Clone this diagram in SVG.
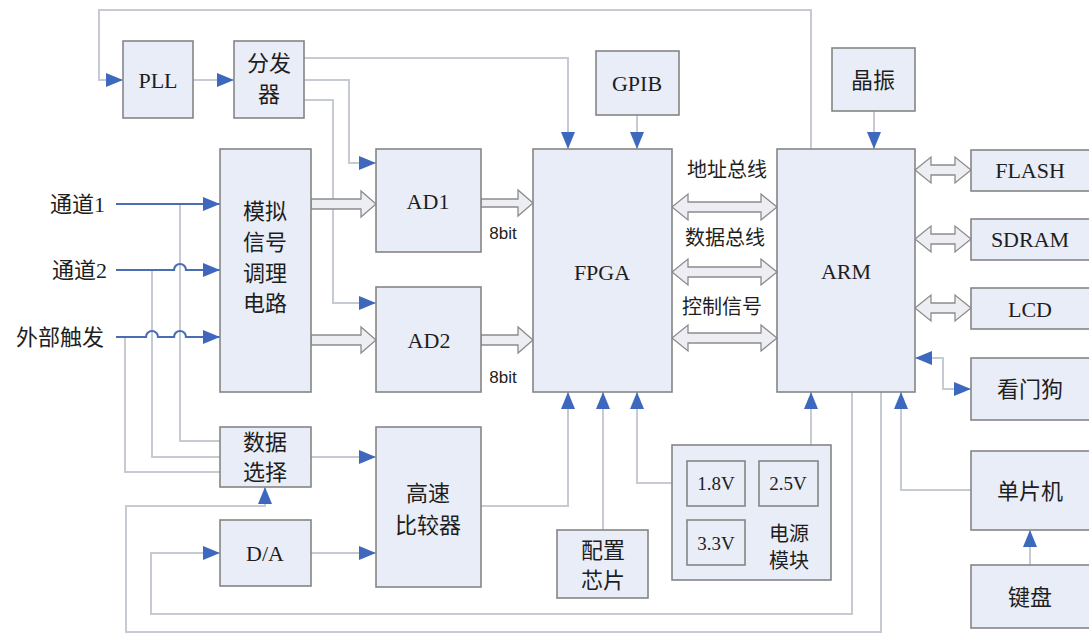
<svg xmlns="http://www.w3.org/2000/svg" width="1089" height="634" viewBox="0 0 1089 634">
<defs>
<style>
.box{fill:#e9edf8;stroke:#858585;stroke-width:1.6}
.t{font-family:"Liberation Serif","Noto Sans CJK SC",serif;font-size:22px;fill:#1e1e1e;text-anchor:middle;dominant-baseline:central}
.ts{font-family:"Liberation Sans","Noto Sans CJK SC",sans-serif;font-size:17px;fill:#1e1e1e;text-anchor:middle;dominant-baseline:central}
.tm{font-size:20px}
.tv{font-size:19px}
.ln{fill:none;stroke:#c6cad3;stroke-width:2}
.bl{fill:none;stroke:#4a6db3;stroke-width:2.2}
.ha{fill:#eceef4;stroke:#8c8c8c;stroke-width:1.3}
</style>
<marker id="ah" markerUnits="userSpaceOnUse" markerWidth="17" markerHeight="14" refX="17" refY="7" orient="auto-start-reverse">
<path d="M0,0 L17,7 L0,14 z" fill="#3e68bd"/>
</marker>
</defs>
<rect width="1089" height="634" fill="#ffffff"/>

<g id="connectors">
<!-- top loop ARM -> PLL -->
<path class="ln" d="M811,149 V10 H99 V80 H123" marker-end="url(#ah)"/>
<path class="ln" d="M193,80 H234" marker-end="url(#ah)"/>
<path class="ln" d="M304,58 H568 V149" marker-end="url(#ah)"/>
<path class="ln" d="M304,80 H349 V163 H376" marker-end="url(#ah)"/>
<path class="ln" d="M304,100 H333 V303 H376" marker-end="url(#ah)"/>
<path class="ln" d="M637,115 V149" marker-end="url(#ah)"/>
<path class="ln" d="M874,111 V149" marker-end="url(#ah)"/>
<!-- input taps to 数据选择 -->
<path class="ln" d="M180,204 V441 H220"/>
<path class="ln" d="M152,270 V457 H220"/>
<path class="ln" d="M125,337 V472 H220"/>
<path class="ln" d="M311,457 H376" marker-end="url(#ah)"/>
<path class="ln" d="M481,506 H568 V392" marker-end="url(#ah)"/>
<path class="ln" d="M603,530 V392" marker-end="url(#ah)"/>
<path class="ln" d="M672,483 H637 V392" marker-end="url(#ah)"/>
<path class="ln" d="M811,445 V392" marker-end="url(#ah)"/>
<!-- bottom loops -->
<path class="ln" d="M852,392 V614 H151 V553 H220" marker-end="url(#ah)"/>
<path class="ln" d="M881,392 V632 H126 V506 H265 V487" marker-end="url(#ah)"/>
<path class="ln" d="M311,553 H376" marker-end="url(#ah)"/>
<path class="ln" d="M971,490 H901 V392" marker-end="url(#ah)"/>
<path class="ln" d="M915,358 H943 V389 H971" marker-start="url(#ah)" marker-end="url(#ah)"/>
<path class="ln" d="M1030,565 V530" marker-end="url(#ah)"/>
<!-- blue inputs -->
<path class="bl" d="M116,204 H220" marker-end="url(#ah)"/>
<path class="bl" d="M116,270 H174 A6,6 0 0 1 186,270 H220" marker-end="url(#ah)"/>
<path class="bl" d="M116,337 H146 A6,6 0 0 1 158,337 H174 A6,6 0 0 1 186,337 H220" marker-end="url(#ah)"/>
<!-- hollow arrows -->
<polygon class="ha" points="311,199 361,199 361,191 376,204 361,217 361,209 311,209"/>
<polygon class="ha" points="311,335 361,335 361,327 376,340 361,353 361,345 311,345"/>
<polygon class="ha" points="481,199 518,199 518,190 533,203 518,216 518,207 481,207"/>
<polygon class="ha" points="481,335 518,335 518,327 533,340 518,353 518,345 481,345"/>
<polygon class="ha" points="672,207 688,194 688,202 761,202 761,194 777,207 761,220 761,212 688,212 688,220"/>
<polygon class="ha" points="672,272 688,259 688,267 761,267 761,259 777,272 761,285 761,277 688,277 688,285"/>
<polygon class="ha" points="672,338 688,325 688,333 761,333 761,325 777,338 761,351 761,343 688,343 688,351"/>
<polygon class="ha" points="915,170 931,157 931,165 955,165 955,157 971,170 955,183 955,175 931,175 931,183"/>
<polygon class="ha" points="915,239 931,226 931,234 955,234 955,226 971,239 955,252 955,244 931,244 931,252"/>
<polygon class="ha" points="915,308 931,295 931,303 955,303 955,295 971,308 955,321 955,313 931,313 931,321"/>
</g>

<g id="labels">
<text class="t" x="105" y="204" style="text-anchor:end">通道1</text>
<text class="t" x="107" y="270" style="text-anchor:end">通道2</text>
<text class="t" x="104" y="337" style="text-anchor:end">外部触发</text>
<text class="ts" x="503" y="233">8bit</text>
<text class="ts" x="503" y="377">8bit</text>
<text class="t tm" x="727" y="170">地址总线</text>
<text class="t tm" x="725" y="238">数据总线</text>
<text class="t tm" x="722" y="307">控制信号</text>
</g>

<g id="pll"><rect class="box" x="123" y="41" width="70" height="77"/><text class="t" x="158" y="80">PLL</text></g>
<g id="fenfaqi"><rect class="box" x="234" y="41" width="70" height="77"/><text class="t" x="269" y="63">分发</text><text class="t" x="269" y="94">器</text></g>
<g id="analog"><rect class="box" x="220" y="149" width="91" height="243"/><text class="t" x="265" y="211">模拟</text><text class="t" x="265" y="242">信号</text><text class="t" x="265" y="273">调理</text><text class="t" x="265" y="303">电路</text></g>
<g id="ad1"><rect class="box" x="376" y="149" width="105" height="103"/><text class="t" x="428" y="201">AD1</text></g>
<g id="ad2"><rect class="box" x="376" y="287" width="105" height="105"/><text class="t" x="429" y="340">AD2</text></g>
<g id="fpga"><rect class="box" x="533" y="149" width="139" height="243"/><text class="t" x="602" y="272">FPGA</text></g>
<g id="gpib"><rect class="box" x="596" y="51" width="83" height="64"/><text class="t" x="637" y="83">GPIB</text></g>
<g id="arm"><rect class="box" x="777" y="149" width="138" height="243"/><text class="t" x="846" y="271">ARM</text></g>
<g id="jingzhen"><rect class="box" x="832" y="48" width="83" height="63"/><text class="t" x="873" y="80">晶振</text></g>
<g id="flash"><rect class="box" x="971" y="150" width="122" height="41"/><text class="t" x="1030" y="170">FLASH</text></g>
<g id="sdram"><rect class="box" x="971" y="219" width="122" height="41"/><text class="t" x="1030" y="239">SDRAM</text></g>
<g id="lcd"><rect class="box" x="971" y="288" width="122" height="41"/><text class="t" x="1030" y="309">LCD</text></g>
<g id="watchdog"><rect class="box" x="971" y="358" width="122" height="62"/><text class="t" x="1030" y="389">看门狗</text></g>
<g id="mcu"><rect class="box" x="971" y="451" width="122" height="79"/><text class="t" x="1030" y="491">单片机</text></g>
<g id="keyboard"><rect class="box" x="971" y="565" width="122" height="63"/><text class="t" x="1030" y="597">键盘</text></g>
<g id="datasel"><rect class="box" x="220" y="427" width="91" height="60"/><text class="t" x="265" y="442">数据</text><text class="t" x="265" y="472">选择</text></g>
<g id="da"><rect class="box" x="220" y="520" width="91" height="66"/><text class="t" x="265" y="553">D/A</text></g>
<g id="comparator"><rect class="box" x="376" y="427" width="105" height="160"/><text class="t" x="428" y="493">高速</text><text class="t" x="428" y="525">比较器</text></g>
<g id="config"><rect class="box" x="557" y="530" width="91" height="68"/><text class="t" x="603" y="550">配置</text><text class="t" x="603" y="580">芯片</text></g>
<g id="power"><rect class="box" x="672" y="445" width="159" height="135"/>
<rect class="box" x="687" y="461" width="58" height="45"/><text class="t tv" x="716" y="483">1.8V</text>
<rect class="box" x="759" y="461" width="59" height="45"/><text class="t tv" x="788" y="483">2.5V</text>
<rect class="box" x="687" y="520" width="58" height="45"/><text class="t tv" x="716" y="543">3.3V</text>
<text class="t tm" x="789" y="534">电源</text><text class="t tm" x="789" y="561">模块</text></g>
</svg>
